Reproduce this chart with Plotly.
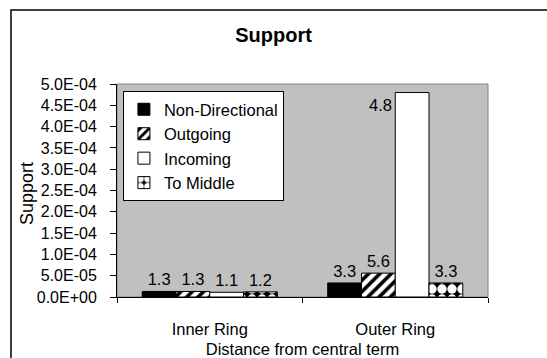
import math
import plotly.graph_objects as go

# Support values per ring and link direction
categories = ["Inner Ring", "Outer Ring"]
series_names = ["Non-Directional", "Outgoing", "Incoming", "To Middle"]
non_directional = [1.3e-5, 3.3e-5]
outgoing = [1.3e-5, 5.6e-5]
incoming = [1.1e-5, 4.8e-4]
to_middle = [1.2e-5, 3.3e-5]
y_tick_values = [0, 5e-5, 1e-4, 1.5e-4, 2e-4, 2.5e-4, 3e-4, 3.5e-4, 4e-4, 4.5e-4, 5e-4]
y_tick_labels = ["0.0E+00"] + [f"{v:.1E}" for v in y_tick_values[1:]]

FONT = "Liberation Sans, Arial, sans-serif"
FS = 16.5
W, H = 547, 358
ML, MR, MT, MB = 117, 59, 84, 61
PW, PH = W - ML - MR, H - MT - MB


def mantissa(v):
    """Label text: the value's mantissa with one decimal."""
    return f"{v / 10 ** math.floor(math.log10(v)):.1f}"


styles = [
    dict(color="black", marker_pattern=None),
    dict(color="white", marker_pattern=dict(shape="/", fgcolor="black", bgcolor="white",
                                            size=8, solidity=0.45, fillmode="replace")),
    dict(color="white", marker_pattern=None),
    dict(color="black", marker_pattern=dict(shape=".", fgcolor="white", bgcolor="black",
                                            size=10, solidity=0.7, fillmode="replace")),
]

fig = go.Figure()
for name, vals, st in zip(series_names, [non_directional, outgoing, incoming, to_middle], styles):
    big = [v > 4e-4 for v in vals]
    marker = dict(color=st["color"], line=dict(color="black", width=1))
    if st["marker_pattern"]:
        marker["pattern"] = st["marker_pattern"]
    fig.add_trace(go.Bar(
        name=name, x=categories, y=vals,
        text=["" if b else mantissa(v) for v, b in zip(vals, big)],
        textposition="outside", cliponaxis=False,
        textfont=dict(family=FONT, size=FS, color="black"),
        marker=marker,
    ))
    # a label that would overflow the top sits beside the bar instead
    for c, v, b in zip(categories, vals, big):
        if b:
            fig.add_annotation(x=c, y=v, text=mantissa(v), showarrow=False,
                               xanchor="right", yanchor="top", xshift=-1, yshift=-1,
                               font=dict(family=FONT, size=FS, color="black"))

# y-axis title
fig.add_annotation(text="Support", textangle=-90, showarrow=False,
                   xref="paper", yref="paper", x=(27 - ML) / PW, y=(H - MB - 194) / PH,
                   xanchor="center", yanchor="middle",
                   font=dict(family=FONT, size=18, color="black"))

# plot-area outline
fig.add_shape(type="rect", xref="paper", yref="paper", x0=0, x1=1, y0=0, y1=1,
              line=dict(color="#808080", width=1), layer="below")
# chart frame
fig.add_shape(type="rect", xref="paper", yref="paper",
              x0=(11 - ML) / PW, x1=1.6, y0=-0.5, y1=(H - MB - 10) / PH,
              line=dict(color="black", width=1.5), fillcolor="rgba(0,0,0,0)")

fig.update_layout(
    width=W, height=H,
    margin=dict(l=ML, r=MR, t=MT, b=MB, autoexpand=False),
    paper_bgcolor="white", plot_bgcolor="#C0C0C0",
    barmode="group", bargap=0.272, bargroupgap=0,
    title=dict(text="<b>Support</b>", x=0.5, xref="container", y=1 - 35 / H, yanchor="middle",
               font=dict(family=FONT, size=20, color="black")),
    font=dict(family=FONT, size=FS, color="black"),
    showlegend=True,
    legend=dict(x=0.016, y=0.967, xanchor="left", yanchor="top",
                bgcolor="white", bordercolor="black", borderwidth=1,
                font=dict(family=FONT, size=FS, color="black"),
                tracegroupgap=0, itemwidth=30),
)
fig.update_xaxes(
    automargin=False,
    showline=True, linecolor="black", linewidth=1, ticks="outside", ticklen=5,
    tickson="boundaries", tickcolor="black", showgrid=False, ticklabelstandoff=17,
    tickfont=dict(family=FONT, size=FS, color="black"),
    title=dict(text="Distance from central term", standoff=8,
               font=dict(family=FONT, size=FS, color="black")),
)
fig.update_yaxes(
    automargin=False,
    range=[0, 5e-4], showline=True, linecolor="black", linewidth=1,
    ticks="outside", ticklen=6, tickcolor="black", showgrid=False, zeroline=False,
    tickvals=y_tick_values, ticktext=y_tick_labels, ticklabelstandoff=10,
    tickfont=dict(family=FONT, size=16, color="black"),
)

fig.write_html("out.html")
